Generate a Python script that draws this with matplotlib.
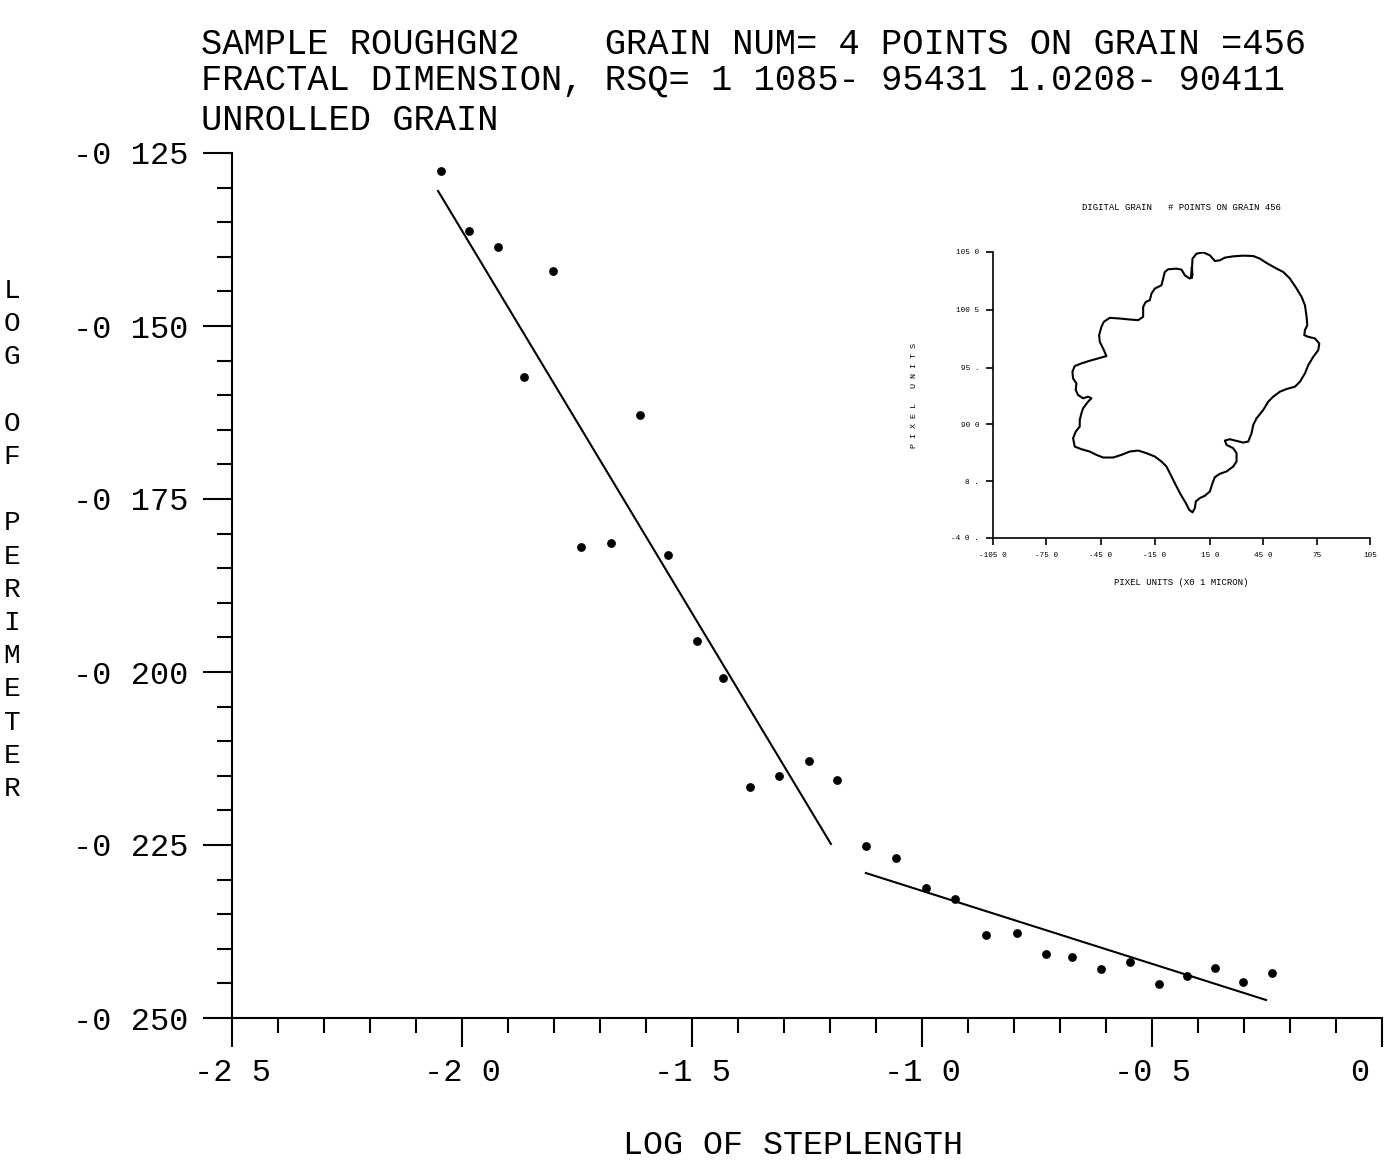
import matplotlib
matplotlib.use('Agg')
import matplotlib.pyplot as plt
from matplotlib.transforms import ScaledTranslation

# ---------------- data ----------------
log_step = [-2.046, -1.985, -1.922, -1.865, -1.802, -1.741, -1.676, -1.613,
            -1.552, -1.489, -1.433, -1.374, -1.311, -1.246, -1.185, -1.122,
            -1.057, -0.991, -0.928, -0.861, -0.793, -0.730, -0.674, -0.611,
            -0.548, -0.485, -0.424, -0.363, -0.302, -0.239]
log_perim = [-0.12760, -0.13627, -0.13858, -0.15737, -0.14205, -0.18194,
             -0.18136, -0.16286, -0.18309, -0.19552, -0.20087, -0.21662,
             -0.21503, -0.21286, -0.21561, -0.22514, -0.22688, -0.23121,
             -0.23280, -0.23801, -0.23772, -0.24075, -0.24118, -0.24292,
             -0.24191, -0.24509, -0.24393, -0.24277, -0.24480, -0.24350]

fit1_x = [-2.052, -1.198]
fit1_y = [-0.13049, -0.22485]
fit2_x = [-1.122, -0.252]
fit2_y = [-0.22905, -0.24740]

xticks = [-2.5, -2.0, -1.5, -1.0, -0.5, 0.0]
xticklabels = ['-2 5', '-2 0', '-1 5', '-1 0', '-0 5', '0']
yticks = [-0.250, -0.225, -0.200, -0.175, -0.150, -0.125]
yticklabels = ['-0 250', '-0 225', '-0 200', '-0 175', '-0 150', '-0 125']

title_lines = ['SAMPLE ROUGHGN2    GRAIN NUM= 4 POINTS ON GRAIN =456',
               'FRACTAL DIMENSION, RSQ= 1 1085- 95431 1.0208- 90411',
               'UNROLLED GRAIN']
xlabel = 'LOG OF STEPLENGTH'
ylabel = 'L\nO\nG\n\nO\nF\n\nP\nE\nR\nI\nM\nE\nT\nE\nR'

# inset: grain outline (digitised image units, y downward)
grain_x = [875, 878, 890, 910, 930, 945, 960, 975, 1000, 1030, 1060, 1080, 1100,
           1130, 1150, 1170, 1190, 1205, 1215, 1220, 1222, 1215, 1213, 1225, 1245,
           1258, 1255, 1240, 1225, 1215, 1200, 1185, 1160, 1140, 1120, 1105, 1090,
           1070, 1060, 1055, 1045, 1030, 1010, 990, 975, 980, 1000, 1010, 1010,
           1000, 980, 960, 945, 938, 930, 915, 900, 888, 885, 878, 868, 858, 843,
           830, 815, 800, 785, 765, 740, 715, 690, 665, 640, 610, 590, 570, 545,
           525, 520, 528, 540, 540, 545, 550, 565, 575, 565, 550, 535, 528, 530,
           520, 518, 525, 545, 570, 595, 620, 610, 600, 598, 605, 612, 630, 660,
           690, 715, 730, 730, 738, 750, 755, 765, 785, 790, 795, 805, 830, 845,
           855, 870, 878, 876, 875]
grain_y = [262, 205, 190, 186, 195, 212, 210, 202, 198, 196, 197, 205, 218,
           235, 245, 265, 295, 320, 345, 380, 405, 420, 435, 440, 445,
           460, 480, 500, 525, 550, 575, 590, 597, 605, 620, 635, 660,
           685, 705, 730, 755, 758, 753, 748, 752, 765, 775, 790, 815,
           830, 845, 852, 862, 880, 905, 918, 925, 935, 955, 968, 960, 940, 915,
           890, 860, 830, 815, 800, 790, 782, 785, 795, 803, 803, 795, 785, 778,
           770, 745, 725, 710, 690, 670, 655, 635, 625, 620, 625, 615, 600, 580,
           565, 545, 528, 520, 512, 505, 498, 475, 455, 435, 410, 395, 383, 385,
           388, 390, 380, 350, 335, 330, 310, 295, 285, 265, 245, 237, 235, 238,
           255, 265, 255, 230, 262]
inset_xticks = [280, 440, 603, 765, 930, 1090, 1250, 1410]
inset_xticklabels = ['-105 0', '-75 0', '-45 0', '-15 0', '15 0', '45 0', '75', '105']
inset_yticks = [185, 358, 533, 703, 875, 1045]
inset_yticklabels = ['105 0', '100 5', '95 .', '90 0', '8 .', '-4 0 .']
inset_title = 'DIGITAL GRAIN   # POINTS ON GRAIN 456'
inset_xlabel = 'PIXEL UNITS (X0 1 MICRON)'
inset_ylabel = 'P I X E L   U N I T S'

FONT = 'Liberation Mono'
plt.rcParams['font.family'] = [FONT, 'DejaVu Sans Mono']

fig = plt.figure(figsize=(13.93, 11.64), dpi=100)
fig.patch.set_facecolor('white')

# ---------------- main axes ----------------
ax = fig.add_axes([232/1393, 1 - 1018/1164, 1150/1393, 865/1164])
ax.scatter(log_step, log_perim, s=40, color='black', zorder=3, linewidths=0)
ax.plot(fit1_x, fit1_y, color='black', lw=1.5)
ax.plot(fit2_x, fit2_y, color='black', lw=1.5)
ax.set_xlim(-2.5, 0.0)
ax.set_ylim(-0.250, -0.125)
for s in ['top', 'right']:
    ax.spines[s].set_visible(False)
for s in ['left', 'bottom']:
    ax.spines[s].set_linewidth(1.5)
ax.set_xticks(xticks)
ax.set_xticklabels(xticklabels)
ax.set_yticks(yticks)
ax.set_yticklabels(yticklabels)
ax.set_xticks([v / 10 for v in range(-25, 1)], minor=True)
ax.set_yticks([-0.250 + 0.005 * i for i in range(26)], minor=True)
ax.tick_params(axis='both', which='major', direction='out', length=21, width=1.5,
               labelsize=23)
ax.tick_params(axis='both', which='minor', direction='out', length=10.5, width=1.5)
ax.tick_params(axis='y', which='major', pad=10)
ax.tick_params(axis='x', which='major', pad=8)
for lab in ax.get_xticklabels() + ax.get_yticklabels():
    lab.set_family(FONT)
# the plotter put the last x label slightly left of its tick
last = ax.xaxis.get_major_ticks()[-1].label1
last.set_transform(last.get_transform() +
                   ScaledTranslation(-0.22, 0, fig.dpi_scale_trans))

fig.text(793/1393, 1 - 1145/1164, xlabel, ha='center', va='center',
         fontsize=24, family=FONT)
fig.text(12/1393, 1 - 540/1164, ylabel, ha='center', va='center',
         fontsize=20, family=FONT, linespacing=1.36)

title_y = [44, 80, 120]
for line, yy in zip(title_lines, title_y):
    fig.text(201/1393, 1 - yy/1164, line, ha='left', va='center',
             fontsize=25.6, family=FONT)

# ---------------- inset ----------------
ia = fig.add_axes([993/1393, 1 - 538/1164, 377/1393, 286/1164])
ia.plot(grain_x, grain_y, color='black', lw=1.5)
ia.set_xlim(280, 1410)
ia.set_ylim(1045, 185)
for s in ['top', 'right']:
    ia.spines[s].set_visible(False)
for s in ['left', 'bottom']:
    ia.spines[s].set_linewidth(1.2)
ia.set_xticks(inset_xticks)
ia.set_xticklabels(inset_xticklabels)
ia.set_yticks(inset_yticks)
ia.set_yticklabels(inset_yticklabels)
ia.tick_params(direction='out', length=5, width=1.2, labelsize=5.5, pad=5,
               colors='black')
ia.set_facecolor('none')
ia.set_title(inset_title, fontsize=6.5, pad=30, family=FONT)
ia.set_xlabel(inset_xlabel, fontsize=6.5, labelpad=14, family=FONT)
ia.set_ylabel(inset_ylabel, fontsize=6, labelpad=24, family=FONT)

fig.savefig('out.png', dpi=100, facecolor='white')
